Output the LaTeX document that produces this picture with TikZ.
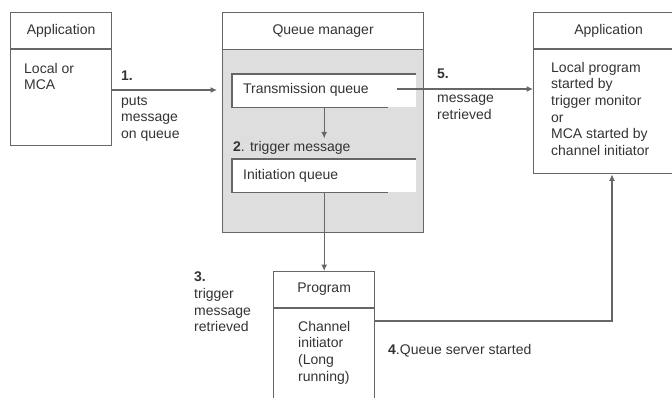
\documentclass[tikz,border=0pt]{standalone}
\usepackage{fontspec}
\setmainfont{Liberation Sans}
\usetikzlibrary{arrows.meta}
\definecolor{linegrey}{HTML}{666666}
\definecolor{qmgrey}{HTML}{DEDEDE}
\definecolor{inkgrey}{HTML}{333333}
\begin{document}
\begin{tikzpicture}[x=1pt,y=-1pt,
  every node/.style={inner sep=0pt,text=inkgrey,font=\fontsize{14}{16.6}\selectfont},
  box/.style={draw=linegrey,line width=1.2pt,anchor=north west},
  txt/.style={anchor=north west,align=left},
  flow/.style={draw=linegrey,line width=1.1pt,-{Latex[length=6.5pt,width=6pt]}}]
  \useasboundingbox (0,0) rectangle (672,398);
  % application on the left
  \node[box,minimum width=101pt,minimum height=36pt] (app1h) at (10,12) {Application};
  \node[box,minimum width=101pt,minimum height=96pt] (app1) at (app1h.south west) {};
  \node[txt] (app1t) at (24,63) {Local or\\MCA};
  % queue manager
  \node[box,fill=qmgrey,minimum width=201pt,minimum height=183pt] (qm) at (222,49) {};
  \node[box,fill=white,minimum width=201pt,minimum height=37pt] (qmh) at (222,12) {Queue manager};
  \node[anchor=north west,fill=white,minimum width=184pt,minimum height=33pt] (tq) at (232,74) {};
  \draw[linegrey,line width=1.2pt] (tq.north east) -- (tq.north west) -- (tq.south west) -- ([xshift=156pt]tq.south west);
  \node[anchor=west] (tqt) at (243,90) {Transmission queue};
  \node[anchor=north west,fill=white,minimum width=184pt,minimum height=33pt] (iq) at (232,159) {};
  \draw[linegrey,line width=1.2pt] (iq.north east) -- (iq.north west) -- (iq.south west) -- ([xshift=156pt]iq.south west);
  \node[anchor=west] (iqt) at (243,176) {Initiation queue};
  \node[anchor=west] (trig) at (233,148) {\textbf{2}. trigger message};
  % application on the right
  \node[box,minimum width=150pt,minimum height=36pt] (app2h) at (533,12) {Application};
  \node[box,minimum width=150pt,minimum height=124pt] (app2) at (app2h.south west) {};
  \node[txt] (app2t) at (551,62) {Local program\\started by\\trigger monitor\\or\\MCA started by\\channel initiator};
  % program
  \node[box,minimum width=101pt,minimum height=36pt] (progh) at (273,271) {Program};
  \node[box,minimum width=101pt,minimum height=110pt] (prog) at (progh.south west) {};
  \node[txt] (progt) at (298,321) {Channel\\initiator\\(Long\\running)};
  % labels
  \node[anchor=base west] (s1) at (121,81) {\textbf{1.}};
  \node[txt] (s1t) at (121,96) {puts\\message\\on queue};
  \node[txt] (s3) at (194,272) {\textbf{3.}\\trigger\\message\\retrieved};
  \node[anchor=west] (s4) at (388,351) {\textbf{4}.Queue server started};
  \node[anchor=base west] (s5) at (437,79) {\textbf{5.}};
  \node[txt] (s5t) at (437,95) {message\\retrieved};
  % connectors
  \coordinate (out5) at (397,89);
  \draw[flow,shorten >=5pt] (app1.east |- 0,90) -- (qm.west |- 0,90);
  \draw[flow] (tq.south) -- ([yshift=3pt]trig.north -| tq.south);
  \draw[flow] (iq.south) -- (iq.south |- progh.north);
  \draw[flow] (prog.east |- 0,321) -| (app2.south -| 612,0);
  \draw[flow] (out5) -- (app2.west |- out5);
\end{tikzpicture}
\end{document}
